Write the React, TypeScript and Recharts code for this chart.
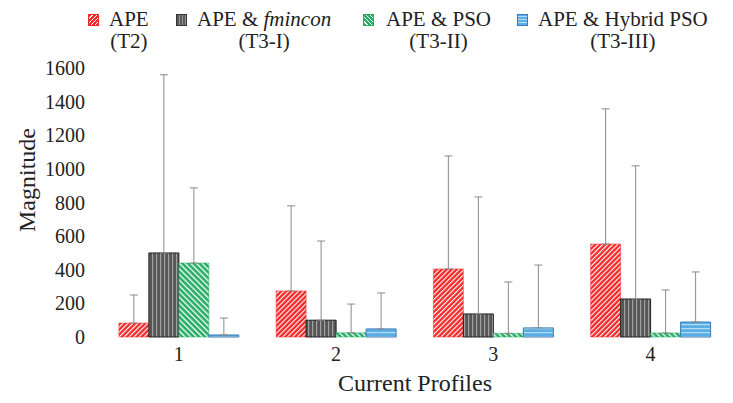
import React from 'react';
import { BarChart, Bar, XAxis, YAxis, ErrorBar } from 'recharts';

const categories = ['1', '2', '3', '4'];
const apeT2 = [83, 274, 405, 553];
const apeT2Top = [250, 780, 1077, 1357];
const fmincon = [500, 100, 137, 226];
const fminconTop = [1560, 571, 833, 1018];
const pso = [440, 25, 22, 24];
const psoTop = [887, 196, 327, 280];
const hybrid = [12, 48, 54, 89];
const hybridTop = [113, 262, 428, 387];
const yTicks = [0, 200, 400, 600, 800, 1000, 1200, 1400, 1600];

const data = categories.map((c, i) => ({
  name: c,
  t2: apeT2[i],
  t2e: [0, apeT2Top[i] - apeT2[i]],
  fm: fmincon[i],
  fme: [0, fminconTop[i] - fmincon[i]],
  pso: pso[i],
  psoe: [0, psoTop[i] - pso[i]],
  hy: hybrid[i],
  hye: [0, hybridTop[i] - hybrid[i]],
}));

const FONT = '"Liberation Serif", "Times New Roman", serif';

const legendItems = [
  { iconX: 88, textX: 109, l1: <>APE</>, l2: '(T2)', bg: 'repeating-linear-gradient(135deg, #f42a2a 0 2px, #ffffff 2px 3px)', border: '#f42a2a' },
  { iconX: 176, textX: 197, l1: <>APE &amp; <i>fmincon</i></>, l2: '(T3-I)', bg: 'repeating-linear-gradient(90deg, #5a5a5a 0 2px, #9a9a9a 2px 3px)', border: '#333' },
  { iconX: 363, textX: 386, l1: <>APE &amp; PSO</>, l2: '(T3-II)', bg: 'repeating-linear-gradient(45deg, #27ad66 0 2px, #ffffff 2px 3px)', border: '#27ad66' },
  { iconX: 517, textX: 538, l1: <>APE &amp; Hybrid PSO</>, l2: '(T3-III)', bg: 'repeating-linear-gradient(0deg, #5aaee6 0 2px, #b5dcf3 2px 3px)', border: '#3b7bb5' },
];

const ErrStyle = { stroke: '#8a8a8a', strokeWidth: 1 };

export default function App() {
  return (
    <div style={{ position: 'absolute', left: 0, top: 0, width: 733, height: 403, background: '#fff', fontFamily: FONT, color: '#222' }}>
      {legendItems.map((it, i) => (
        <React.Fragment key={i}>
          <div style={{ position: 'absolute', left: it.iconX, top: 14, width: 11, height: 12, background: it.bg, boxSizing: 'border-box', border: `1px solid ${it.border}` }} />
          <div style={{ position: 'absolute', left: it.textX, top: 7, fontSize: 21, lineHeight: '24px', textAlign: 'center', whiteSpace: 'nowrap' }}>
            <div style={{ height: 22 }}>{it.l1}</div>
            <div>{it.l2}</div>
          </div>
        </React.Fragment>
      ))}
      <div style={{ position: 'absolute', left: 27, top: 180, transform: 'translate(-50%, -50%) rotate(-90deg)', fontSize: 24, whiteSpace: 'nowrap' }}>Magnitude</div>
      <div style={{ position: 'absolute', left: 415, top: 383, transform: 'translate(-50%, -50%)', fontSize: 24, whiteSpace: 'nowrap' }}>Current Profiles</div>
      <div style={{ position: 'absolute', left: 0, top: 0 }}>
        <BarChart width={733} height={403} data={data} margin={{ top: 68, right: 4, bottom: 36, left: 50 }} barCategoryGap="12%" barGap={0}>
          <defs>
            <pattern id="pRed" patternUnits="userSpaceOnUse" width="3.5" height="3.5" patternTransform="rotate(45)">
              <rect width="3.5" height="3.5" fill="#f42a2a" />
              <rect x="0" width="1.1" height="3.5" fill="#ffffff" />
            </pattern>
            <pattern id="pBlack" patternUnits="userSpaceOnUse" width="4" height="4">
              <rect width="4" height="4" fill="#565656" />
              <rect x="0" width="1.2" height="4" fill="#a0a0a0" />
            </pattern>
            <pattern id="pGreen" patternUnits="userSpaceOnUse" width="4" height="4" patternTransform="rotate(-45)">
              <rect width="4" height="4" fill="#27ad66" />
              <rect x="0" width="1.3" height="4" fill="#ffffff" />
            </pattern>
            <pattern id="pBlue" patternUnits="userSpaceOnUse" width="4" height="4">
              <rect width="4" height="4" fill="#5aaee6" />
              <rect y="0" width="4" height="1.2" fill="#b5dcf3" />
            </pattern>
          </defs>
          <XAxis dataKey="name" height={30} axisLine={false} tickLine={false} tickSize={0} tickMargin={10} tick={{ fontSize: 20, fill: '#222', fontFamily: FONT }} />
          <YAxis width={50} domain={[0, 1600]} ticks={yTicks} interval={0} axisLine={false} tickLine={false} tickSize={0} tickMargin={15} tick={{ fontSize: 20, fill: '#222', fontFamily: FONT }} />
          <Bar dataKey="t2" fill="url(#pRed)" stroke="#f42a2a" strokeWidth={0.5} isAnimationActive={false}>
            <ErrorBar dataKey="t2e" width={4} direction="y" {...ErrStyle} isAnimationActive={false} />
          </Bar>
          <Bar dataKey="fm" fill="url(#pBlack)" stroke="#222" strokeWidth={1} isAnimationActive={false}>
            <ErrorBar dataKey="fme" width={4} direction="y" {...ErrStyle} isAnimationActive={false} />
          </Bar>
          <Bar dataKey="pso" fill="url(#pGreen)" stroke="#27ad66" strokeWidth={0.5} isAnimationActive={false}>
            <ErrorBar dataKey="psoe" width={4} direction="y" {...ErrStyle} isAnimationActive={false} />
          </Bar>
          <Bar dataKey="hy" fill="url(#pBlue)" stroke="#3b7bb5" strokeWidth={1} isAnimationActive={false}>
            <ErrorBar dataKey="hye" width={4} direction="y" {...ErrStyle} isAnimationActive={false} />
          </Bar>
        </BarChart>
      </div>
    </div>
  );
}
